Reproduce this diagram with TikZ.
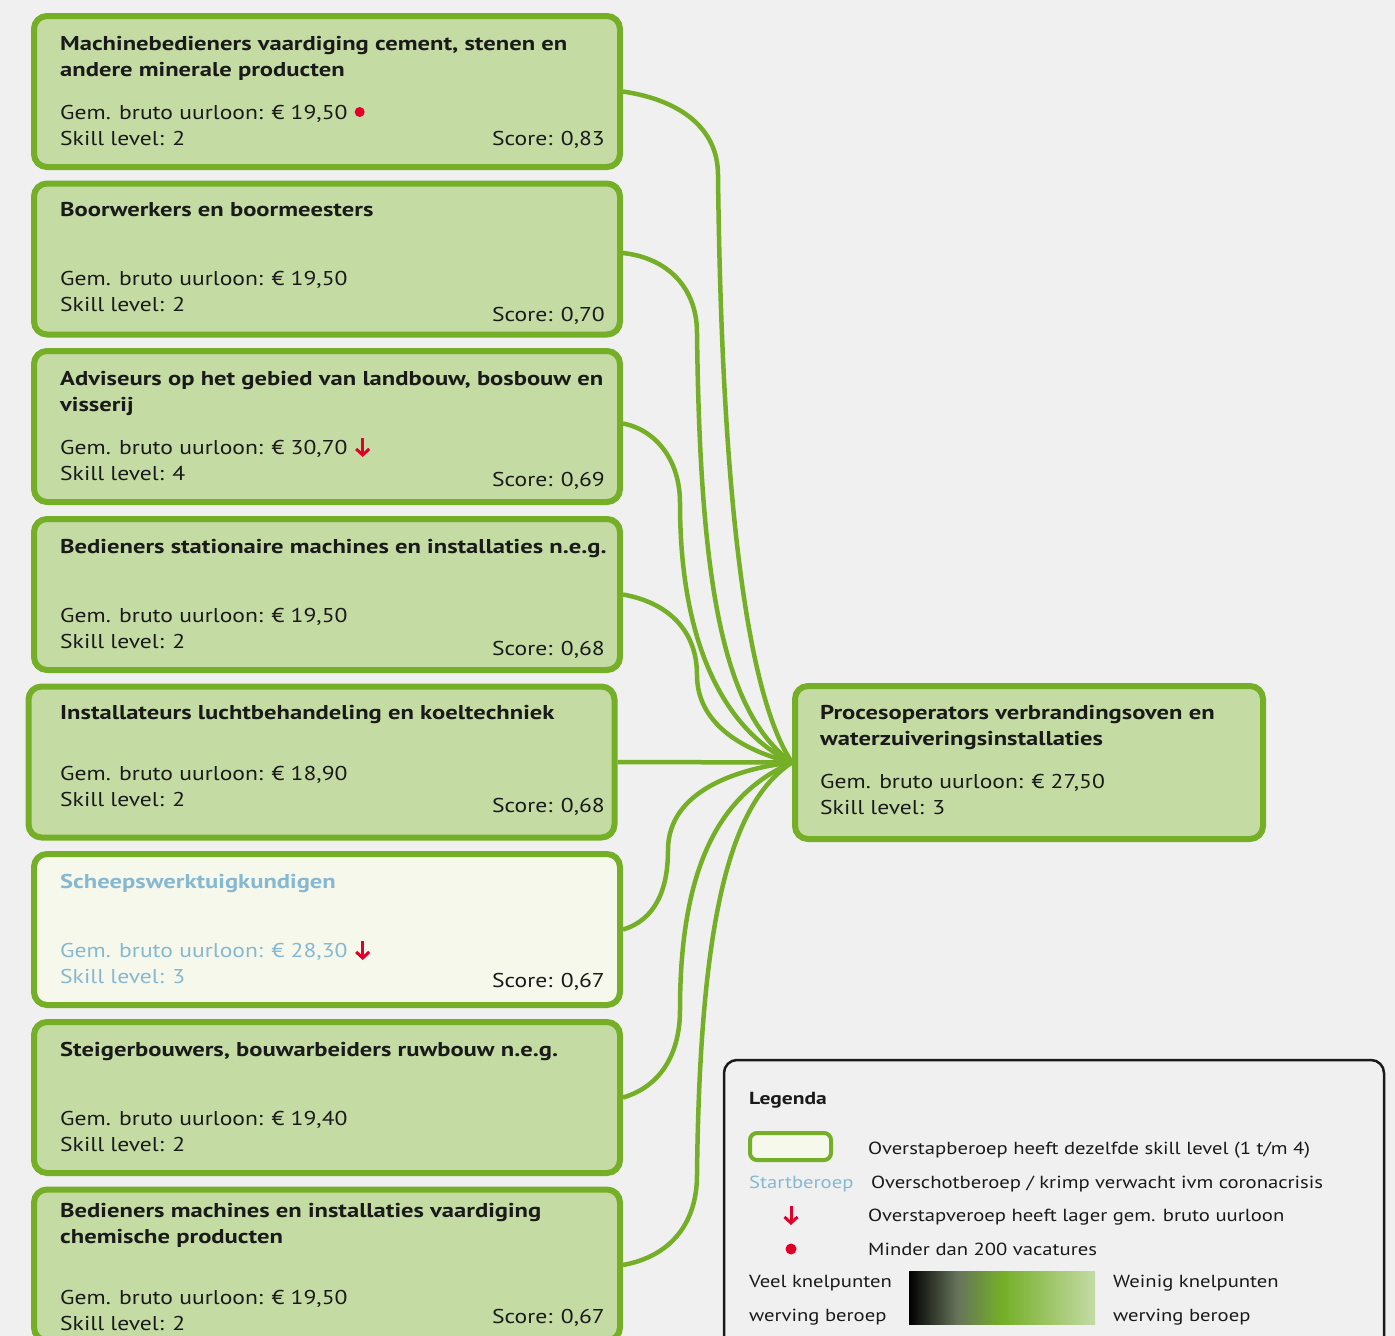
\documentclass[tikz,border=0pt]{standalone}
\usepackage{fontspec}
\setmainfont{PT Sans}[FakeStretch=1.18]
\newfontfamily\titlefont{PT Sans}[FakeStretch=1.23]
\usetikzlibrary{arrows.meta}

\definecolor{bgcol}{HTML}{F0F0F0}
\definecolor{jobgreen}{HTML}{74AF27}
\definecolor{jobfill}{HTML}{C4DBA4}
\definecolor{palefill}{HTML}{F6F8EB}
\definecolor{startblue}{HTML}{86B8D2}
\definecolor{alertred}{HTML}{E2002A}
\definecolor{ink}{HTML}{1A1A1A}
\definecolor{olive}{HTML}{66735A}

\begin{document}
\begin{tikzpicture}[x=1pt,y=-1pt,
    job/.style={draw=jobgreen, line width=6pt, fill=jobfill, rounded corners=13pt,
                minimum width=586pt, minimum height=151pt, inner sep=0pt},
    startjob/.style={job, fill=palefill},
    jobtitle/.style={anchor=base west, inner sep=0pt, text=ink,
                     font=\fontsize{20}{26}\titlefont\bfseries},
    jobinfo/.style={anchor=base west, inner sep=0pt, text=ink,
                    font=\fontsize{20}{26}\selectfont},
    jobscore/.style={jobinfo, anchor=base east},
    legtext/.style={anchor=base west, inner sep=0pt, text=ink,
                    font=\fontsize{17.5}{22}\selectfont},
    link/.style={draw=jobgreen, line width=4.5pt},
    lowpay/.style={draw=alertred, line width=3pt, -{Straight Barb[length=6pt,width=13pt]}}]

    \clip (0,0) rectangle (1395,1336);
    \fill[bgcol] (0,0) rectangle (1395,1336);

    % beroepen links
    \node[job] (m1) at (327,91.5) {};
    \node[jobtitle] at (60,50) {Machinebedieners vaardiging cement, stenen en};
    \node[jobtitle] at (60,76) {andere minerale producten};
    \node[jobinfo] (g1) at (60,119) {Gem. bruto uurloon: € 19,50};
    \node[jobinfo] at (60,145) {Skill level: 2};
    \node[jobscore] at (605,145) {Score: 0,83};
    \fill[alertred] ([xshift=12pt]g1.base east) ++(0,-7) circle (5);

    \node[job] (m2) at (327,259) {};
    \node[jobtitle] at (60,216) {Boorwerkers en boormeesters};
    \node[jobinfo] at (60,285) {Gem. bruto uurloon: € 19,50};
    \node[jobinfo] at (60,311) {Skill level: 2};
    \node[jobscore] at (605,321) {Score: 0,70};

    \node[job] (m3) at (327,426.5) {};
    \node[jobtitle] at (60,385) {Adviseurs op het gebied van landbouw, bosbouw en};
    \node[jobtitle] at (60,411) {visserij};
    \node[jobinfo] (g3) at (60,454) {Gem. bruto uurloon: € 30,70};
    \node[jobinfo] at (60,480) {Skill level: 4};
    \node[jobscore] at (605,486) {Score: 0,69};
    \draw[lowpay] ([xshift=15pt]g3.base east) ++(0,-16) -- ++(0,19);

    \node[job] (m4) at (327,594.5) {};
    \node[jobtitle] at (60,553) {Bedieners stationaire machines en installaties n.e.g.};
    \node[jobinfo] at (60,622) {Gem. bruto uurloon: € 19,50};
    \node[jobinfo] at (60,648) {Skill level: 2};
    \node[jobscore] at (605,655) {Score: 0,68};

    \node[job] (m5) at (321.5,762) {};
    \node[jobtitle] at (60,719) {Installateurs luchtbehandeling en koeltechniek};
    \node[jobinfo] at (60,780) {Gem. bruto uurloon: € 18,90};
    \node[jobinfo] at (60,806) {Skill level: 2};
    \node[jobscore] at (605,812) {Score: 0,68};

    \node[startjob] (m6) at (327,929.5) {};
    \node[jobtitle, text=startblue] at (60,888) {Scheepswerktuigkundigen};
    \node[jobinfo, text=startblue] (g6) at (60,957) {Gem. bruto uurloon: € 28,30};
    \node[jobinfo, text=startblue] at (60,983) {Skill level: 3};
    \node[jobscore] at (605,987) {Score: 0,67};
    \draw[lowpay] ([xshift=15pt]g6.base east) ++(0,-16) -- ++(0,19);

    \node[job] (m7) at (327,1097.5) {};
    \node[jobtitle] at (60,1056) {Steigerbouwers, bouwarbeiders ruwbouw n.e.g.};
    \node[jobinfo] at (60,1125) {Gem. bruto uurloon: € 19,40};
    \node[jobinfo] at (60,1151) {Skill level: 2};

    \node[job] (m8) at (327,1265) {};
    \node[jobtitle] at (60,1217) {Bedieners machines en installaties vaardiging};
    \node[jobtitle] at (60,1243) {chemische producten};
    \node[jobinfo] at (60,1304) {Gem. bruto uurloon: € 19,50};
    \node[jobinfo] at (60,1330) {Skill level: 2};
    \node[jobscore] at (605,1323) {Score: 0,67};

    % startberoep rechts
    \node[job, minimum width=468pt, minimum height=153pt] (tgt) at (1029,762.5) {};
    \node[jobtitle] at (820,719) {Procesoperators verbrandingsoven en};
    \node[jobtitle] at (820,745) {waterzuiveringsinstallaties};
    \node[jobinfo] at (820,788) {Gem. bruto uurloon: € 27,50};
    \node[jobinfo] at (820,814) {Skill level: 3};

    % verbindingen
    \draw[link] (m1.east) .. controls (680,100) and (718,128) .. (718,175)
        .. controls (722,520) and (750,700) .. (tgt.west);
    \draw[link] ([yshift=6pt]m2.east) .. controls (668,258) and (697,288) .. (697,333)
        .. controls (700,580) and (722,712) .. (tgt.west);
    \draw[link] ([yshift=3pt]m3.east) .. controls (656,430) and (680,460) .. (680,503)
        .. controls (680,650) and (728,732) .. (tgt.west);
    \draw[link] (m4.east) .. controls (670,603) and (697,632) .. (697,675)
        .. controls (697,722) and (740,750) .. (tgt.west);
    \draw[link] (m5.east) -- (tgt.west);
    \draw[link] (m6.east) .. controls (655,920) and (668,890) .. (668,850)
        .. controls (668,790) and (740,768) .. (tgt.west);
    \draw[link] (m7.east) .. controls (662,1086) and (680,1052) .. (680,1010)
        .. controls (680,850) and (730,790) .. (tgt.west);
    \draw[link] (m8.east) .. controls (672,1256) and (697,1222) .. (697,1175)
        .. controls (700,900) and (735,800) .. (tgt.west);

    % legenda
    \draw[ink, line width=2.5pt, fill=bgcol, rounded corners=13pt] (724,1060) rectangle (1384,1360);
    \node[legtext, font=\fontsize{17.5}{22}\titlefont\bfseries] at (749,1104) {Legenda};
    \node[startjob, line width=4pt, rounded corners=7pt, minimum width=81pt, minimum height=27pt] (lbox) at (790.5,1146.5) {};
    \node[legtext] at (868,1154) {Overstapberoep heeft dezelfde skill level (1 t/m 4)};
    \node[legtext, text=startblue] at (749,1188) {Startberoep};
    \node[legtext] at (871,1188) {Overschotberoep / krimp verwacht ivm coronacrisis};
    \draw[lowpay] (791,1206) -- (791,1225);
    \node[legtext] at (868,1221) {Overstapveroep heeft lager gem. bruto uurloon};
    \fill[alertred] (791,1249) circle (5.5);
    \node[legtext] at (868,1255) {Minder dan 200 vacatures};
    \node[legtext] at (749,1287) {Veel knelpunten};
    \node[legtext] at (749,1321) {werving beroep};
    \shade[left color=black, right color=olive] (909,1271) rectangle (957,1324);
    \shade[left color=olive, right color=jobgreen] (957,1271) rectangle (1002,1324);
    \shade[left color=jobgreen, right color=jobfill] (1002,1271) rectangle (1095,1324);
    \node[legtext] at (1113,1287) {Weinig knelpunten};
    \node[legtext] at (1113,1321) {werving beroep};
\end{tikzpicture}
\end{document}
